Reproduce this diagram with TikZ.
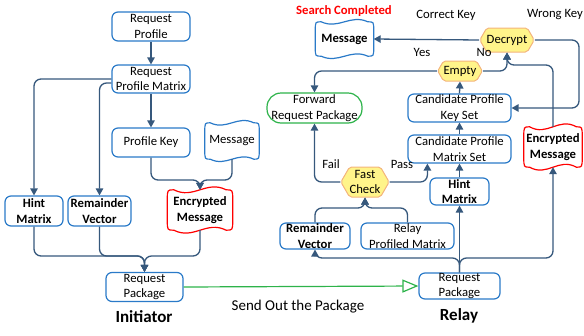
\documentclass[tikz,border=0pt]{standalone}
\usepackage{fontspec}
\setmainfont{Carlito}
\usetikzlibrary{arrows.meta,shapes.symbols,shapes.geometric,calc}
\definecolor{boxblue}{HTML}{2A7AC8}
\definecolor{lineblue}{HTML}{36587C}
\definecolor{hexfill}{HTML}{FFF48A}
\definecolor{hexdraw}{HTML}{F3B47C}
\definecolor{msgred}{HTML}{FF0000}
\definecolor{fwdgreen}{HTML}{2DB34A}
\newcommand\mysize{\fontsize{12.7}{15.5}\selectfont}
% wavy outline round a node: name, colour, amplitude
\newcommand\wavyoutline[3]{%
\draw[#2, line width=1.2pt] let \p1=(#1.north west), \p2=(#1.south east), \n1={\x2-\x1}, \n2={\y1-\y2} in
 (\x1+0.1*\n1, \y1)
 .. controls (\x1+0.4*\n1, \y1-2*#3) and (\x1+0.6*\n1, \y1+2*#3) .. (\x1+0.9*\n1, \y1)
 .. controls (\x2, \y1) .. (\x2, \y1-0.25*\n2)
 -- (\x2, \y2+0.25*\n2)
 .. controls (\x2, \y2) .. (\x1+0.9*\n1, \y2)
 .. controls (\x1+0.6*\n1, \y2+2*#3) and (\x1+0.4*\n1, \y2-2*#3) .. (\x1+0.1*\n1, \y2)
 .. controls (\x1,\y2) .. (\x1, \y2+0.25*\n2)
 -- (\x1, \y1-0.25*\n2)
 .. controls (\x1,\y1) .. cycle;
}
\begin{document}
\begin{tikzpicture}[x=1pt,y=-1pt,
  every node/.style={font=\mysize, inner sep=0pt},
  box/.style={draw=boxblue, line width=1.2pt, rounded corners=6pt, align=center, fill=white},
  hexa/.style={signal, signal to=east and west, signal pointer angle=120, draw=hexdraw, fill=hexfill, line width=1pt, rounded corners=2pt, align=center},
  wave/.style={align=center},
  conn/.style={draw=lineblue, line width=1.3pt, rounded corners=7pt, -{Triangle[length=7pt,width=7.5pt]}},
  lab/.style={font=\mysize}
]
\useasboundingbox (0,0) rectangle (584,335);

% ---------- Initiator side ----------
\node[box, minimum width=78pt, minimum height=29pt] (rp1) at (151,26.5) {Request\\Profile};
\node[box, minimum width=78pt, minimum height=28pt] (rpm) at (151,79) {Request\\Profile Matrix};
\node[box, minimum width=78pt, minimum height=29pt] (pk) at (151,142.5) {Profile Key};
\node[wave, minimum width=54pt, minimum height=36pt] (msgL) at (232,141) {Message};
\wavyoutline{msgL}{boxblue}{4pt}
\node[box, minimum width=58pt, minimum height=30pt, font=\mysize\bfseries] (hintL) at (34,211) {Hint\\Matrix};
\node[box, minimum width=63pt, minimum height=30pt, font=\mysize\bfseries] (rvL) at (99.5,211) {Remainder\\Vector};
\node[wave, minimum width=65pt, minimum height=40pt, font=\mysize\bfseries] (encL) at (200,210) {Encrypted\\Message};
\wavyoutline{encL}{msgred}{5pt}
\node[box, minimum width=77pt, minimum height=29pt] (pkgL) at (144.5,287) {Request\\Package};
\node[font=\fontsize{17}{20}\selectfont\bfseries] (init) at (144,317) {Initiator};
\node[font=\fontsize{15}{18}\selectfont] (send) at (298,307) {Send Out the Package};

\draw[conn] (rp1) -- (rpm);
\draw[conn] (rpm) -- (pk);
\draw[conn] (rpm.west) -| (hintL.north);
\draw[conn] ([yshift=-4pt]rpm.west) -| (rvL.north);
\draw[conn] (pk.south) |- (200,180) -- (encL.north);
\draw[conn] (msgL.south) |- (200,180) -- (encL.north);
\draw[conn] (hintL.south) |- (144.5,256) -- (pkgL.north);
\draw[conn] (rvL.south) |- (144.5,256) -- (pkgL.north);
\draw[conn] (encL.south) |- (144.5,256) -- (pkgL.north);

% ---------- Relay side ----------
\node[box, minimum width=81pt, minimum height=26pt] (pkgR) at (459.5,286) {Request\\Package};
\node[font=\fontsize{17}{20}\selectfont\bfseries] (relay) at (459,316) {Relay};
\node[box, minimum width=70pt, minimum height=26pt, font=\mysize\bfseries] (rvR) at (315,236) {Remainder\\Vector};
\node[box, minimum width=93pt, minimum height=26pt] (rpmR) at (407.5,236) {Relay\\Profiled Matrix};
\node[box, minimum width=59pt, minimum height=27pt, font=\mysize\bfseries] (hintR) at (459.5,191.5) {Hint\\Matrix};
\node[hexa, minimum width=48pt, minimum height=30pt] (fast) at (365,182) {Fast\\Check};
\node[box, minimum width=103pt, minimum height=28pt] (cpms) at (459.5,149) {Candidate Profile\\Matrix Set};
\node[box, minimum width=103pt, minimum height=28pt] (cpks) at (459.5,108) {Candidate Profile\\Key Set};
\node[hexa, minimum width=42pt, minimum height=20pt] (empty) at (460,71) {Empty};
\node[hexa, minimum width=42pt, minimum height=24pt] (decrypt) at (507,40) {Decrypt};
\node[wave, minimum width=58pt, minimum height=34pt, font=\mysize\bfseries] (msgR) at (344.5,39) {Message};
\wavyoutline{msgR}{boxblue}{4pt}
\node[box, draw=fwdgreen, rounded corners=14pt, minimum width=95pt, minimum height=30pt] (fwd) at (314.5,108) {Forward\\Request Package};
\node[wave, minimum width=58pt, minimum height=40pt, font=\mysize\bfseries] (encR) at (553,147) {Encrypted\\Message};
\wavyoutline{encR}{msgred}{5pt}

\node[lab, text=msgred, font=\mysize\bfseries] (search) at (344,11) {Search Completed};
\node[lab] (correct) at (446,15) {Correct Key};
\node[lab] (wrong) at (555,15) {Wrong Key};
\node[lab] (yes) at (422,52) {Yes};
\node[lab] (no) at (484,52) {No};
\node[lab] (fail) at (331,164) {Fail};
\node[lab] (pass) at (402,164) {Pass};

\draw[draw=fwdgreen, line width=1.2pt, -{Triangle[open,length=16pt,width=13pt]}] (pkgL.east) -- (pkgR.west);

\draw[conn] (pkgR.north) -- (hintR.south);
\draw[conn] (pkgR.north) -- (459.5,258) -| (rvR.south);
\draw[conn] (pkgR.north) -- (459.5,258) -| (encR.south);
\draw[conn] (rvR.north) |- (365,208) -- (fast.south);
\draw[conn] (rpmR.north) |- (365,208) -- (fast.south);
\draw[conn] (fast.west) -| (fwd.south);
\draw[conn] (fast.east) -| ($(cpms.south west)+(20,0)$);
\draw[conn] (hintR.north) -- (cpms.south);
\draw[conn] (cpms.north) -- (cpks.south);
\draw[conn] (cpks.north) -- (empty.south);
\draw[conn] (empty.west) -| (fwd.north);
\draw[conn] (empty.east) -| (decrypt.south);
\draw[conn] (encR.north) |- (507,65) -- (decrypt.south);
\draw[conn] (decrypt.east) -- (579,40) |- (cpks.east);
\draw[conn] (decrypt.west) -- (msgR.east);
\end{tikzpicture}
\end{document}
